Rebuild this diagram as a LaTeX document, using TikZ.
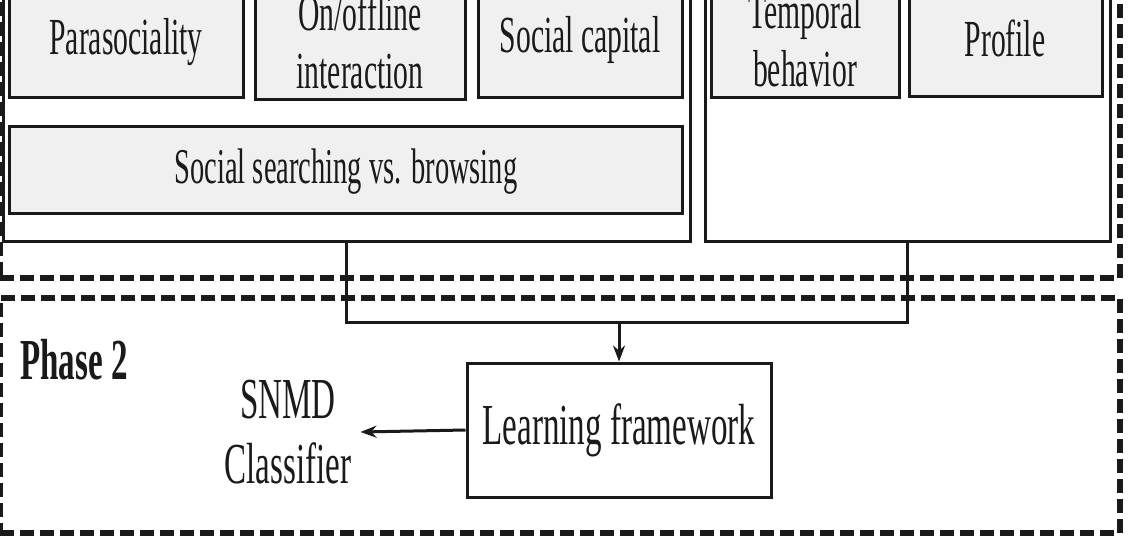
\documentclass[tikz,border=0pt]{standalone}
\usepackage{fontspec}
\setmainfont{Liberation Serif}[FakeStretch=0.57]
\usetikzlibrary{arrows.meta}
\definecolor{boxgray}{HTML}{F0F0F0}
\definecolor{ink}{HTML}{1A1A1A}
\begin{document}
\begin{tikzpicture}[x=1pt,y=-1pt,
  box/.style={draw=ink, line width=3pt, fill=boxgray, inner sep=0pt},
  group/.style={draw=ink, line width=3pt, fill=white, inner sep=0pt},
  phase/.style={draw=ink, line width=6pt, dash pattern=on 14pt off 6pt, inner sep=0pt},
  lbl/.style={font=\fontsize{52}{58}\selectfont, align=center, inner sep=0pt, text=ink},
  biglbl/.style={lbl, font=\fontsize{58}{65}\selectfont},
  conn/.style={draw=ink, line width=3pt},
  arr/.style={conn, -{Stealth[length=16pt,width=12pt]}}]
\useasboundingbox (0,0) rectangle (1132,544);
\clip (0,0) rectangle (1132,544);
% phase boxes
\node[phase, minimum width=1120pt, minimum height=318pt] (phase1) at (560,119) {};
\node[phase, minimum width=1120pt, minimum height=235pt] (phase2) at (560,415.5) {};
% group boxes
\node[group, minimum width=687pt, minimum height=271pt] (leftgrp) at (346.5,105.5) {};
\node[group, minimum width=405pt, minimum height=271pt] (rightgrp) at (907.5,105.5) {};
% feature boxes
\node[box, minimum width=234pt, minimum height=127pt] (para) at (126,33.5) {};
\node[box, minimum width=210pt, minimum height=129pt] (onoff) at (360,34.5) {};
\node[box, minimum width=204pt, minimum height=127pt] (scap) at (580,33.5) {};
\node[box, minimum width=673pt, minimum height=87pt] (search) at (345.5,169.5) {};
\node[box, minimum width=188pt, minimum height=127pt] (temp) at (805,33.5) {};
\node[box, minimum width=193pt, minimum height=126pt] (prof) at (1005.5,33) {};
% labels
\node[lbl] (paraT) at (126,42) {Parasociality};
\node[lbl] (onoffT) at (360,41) {On/offline\\interaction};
\node[lbl] (scapT) at (580,40) {Social capital};
\node[lbl, font=\fontsize{50}{58}\selectfont] (searchT) at (346,172) {Social searching vs. browsing};
\node[lbl] (tempT) at (805,40) {Temporal\\behavior};
\node[lbl] (profT) at (1005,38) {Profile};
% phase 2
\node[lbl, font=\fontsize{58}{65}\bfseries\selectfont, anchor=west] (ph2) at (20,360) {Phase 2};
\node[group, biglbl, minimum width=304pt, minimum height=134pt, draw=ink, line width=3pt] (learn) at (619,430) {Learning framework};
\node[biglbl, inner xsep=9pt] (snmd) at (288,432) {SNMD\\Classifier};
% connectors
\coordinate (j) at (619,322);
\draw[conn] (leftgrp.south) -- (leftgrp.south |- j) -| (rightgrp.south);
\draw[arr] (j) -- (learn.north);
\draw[arr] (learn.west) -- (snmd.east);
\end{tikzpicture}
\end{document}
